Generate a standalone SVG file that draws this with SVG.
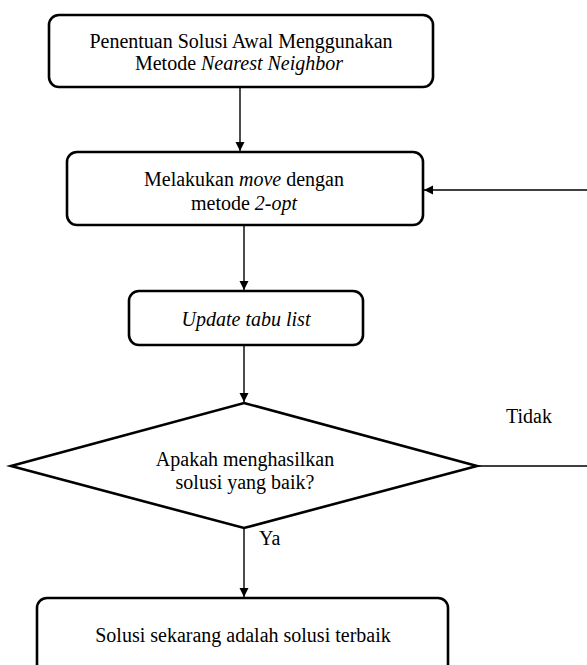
<svg xmlns="http://www.w3.org/2000/svg" width="587" height="665" viewBox="0 0 587 665">
<style>
.box{fill:#fff;stroke:#000;stroke-width:2.6}
.t{font-family:"Liberation Serif","Times New Roman",serif;font-size:20px;fill:#000;text-anchor:middle}
.i{font-style:italic}
.lbl{font-family:"Liberation Serif","Times New Roman",serif;font-size:20px;fill:#000}
.con{fill:none;stroke:#000;stroke-width:1.4}
</style>
<defs>
<marker id="ah" markerWidth="10" markerHeight="10" refX="9" refY="5" orient="auto" markerUnits="userSpaceOnUse">
<path d="M0,0.5 L9,5 L0,9.5 Z" fill="#000"/>
</marker>
</defs>
<rect x="0" y="0" width="587" height="665" fill="#fff"/>
<g id="connectors">
<line class="con" x1="240" y1="88" x2="240" y2="151" marker-end="url(#ah)"/>
<line class="con" x1="244" y1="226" x2="244" y2="290" marker-end="url(#ah)"/>
<line class="con" x1="244" y1="346" x2="244" y2="402" marker-end="url(#ah)"/>
<line class="con" x1="244" y1="528" x2="244" y2="597" marker-end="url(#ah)"/>
<path class="con" d="M477,466 H600 V190 H424" marker-end="url(#ah)"/>
<text class="lbl" x="506" y="423">Tidak</text>
<text class="lbl" x="259" y="545">Ya</text>
</g>
<g id="n1">
<rect class="box" x="49" y="15" width="384" height="72" rx="10"/>
<text class="t" x="241" y="48">Penentuan Solusi Awal Menggunakan</text>
<text class="t" x="239" y="70">Metode <tspan class="i">Nearest Neighbor</tspan></text>
</g>
<g id="n2">
<rect class="box" x="67" y="152" width="356" height="73" rx="10"/>
<text class="t" x="244" y="186">Melakukan <tspan class="i">move</tspan> dengan</text>
<text class="t" x="244" y="210">metode <tspan class="i">2-opt</tspan></text>
</g>
<g id="n3">
<rect class="box" x="129" y="291" width="234" height="54" rx="10"/>
<text class="t i" x="246" y="326">Update tabu list</text>
</g>
<g id="n4">
<polygon class="box" points="244,403 477,466 244,528 11,466"/>
<text class="t" x="245" y="466">Apakah menghasilkan</text>
<text class="t" x="245" y="489">solusi yang baik?</text>
</g>
<g id="n5">
<rect class="box" x="37" y="598" width="411" height="80" rx="10"/>
<text class="t" x="243" y="642">Solusi sekarang adalah solusi terbaik</text>
</g>
</svg>
